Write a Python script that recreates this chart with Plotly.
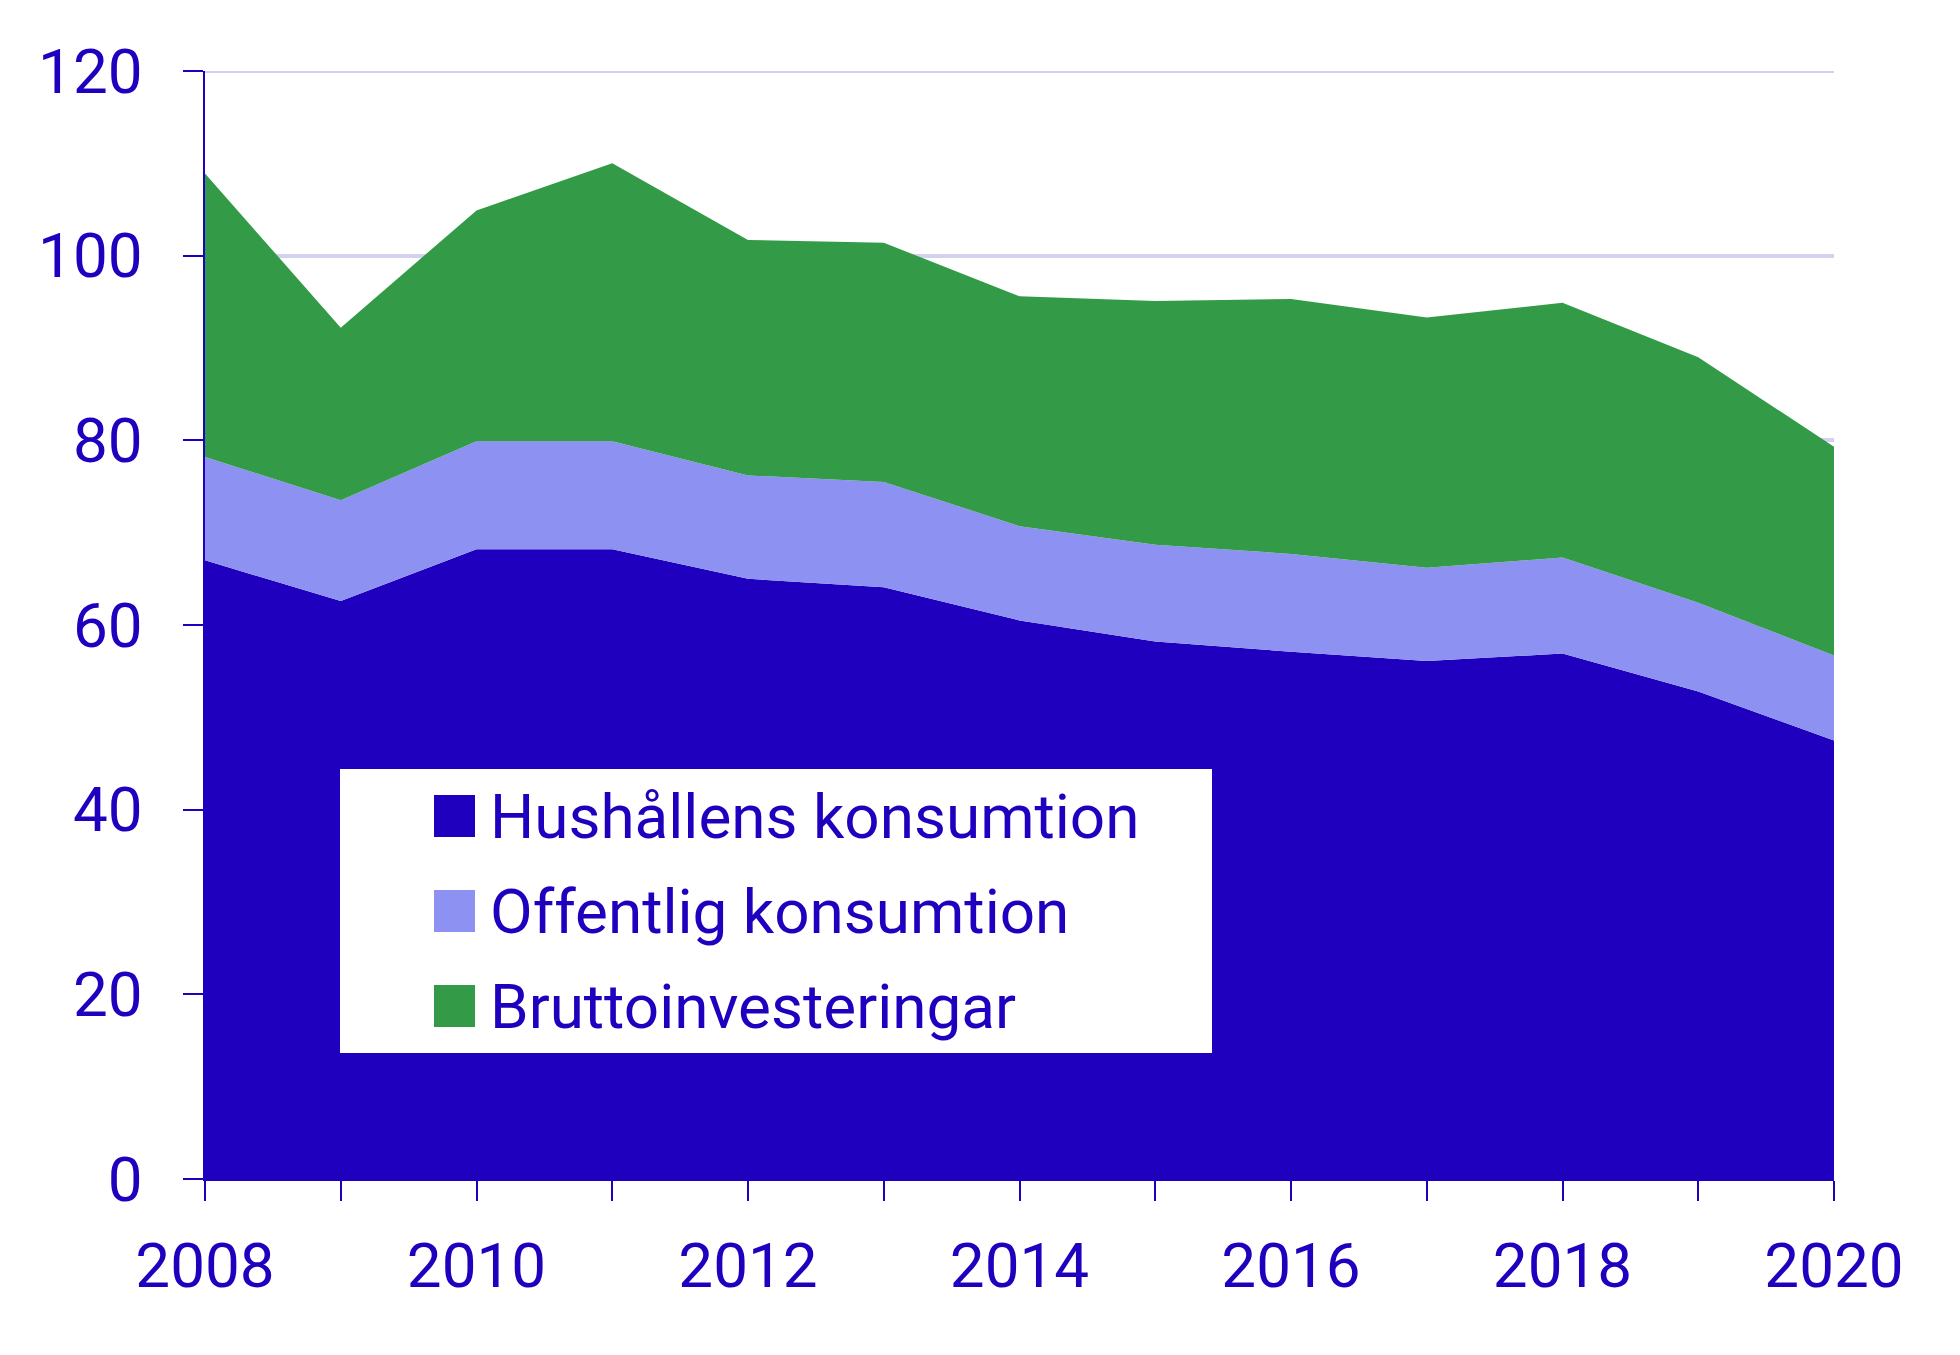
import plotly.graph_objects as go

years = list(range(2008, 2021))
x_tick_labels = ["2008", "", "2010", "", "2012", "", "2014", "", "2016", "", "2018", "", "2020"]
y_tick_vals = [0, 20, 40, 60, 80, 100, 120]

series_names = ["Hushållens konsumtion", "Offentlig konsumtion", "Bruttoinvesteringar"]
hushall = [67.0, 62.6, 68.2, 68.2, 65.0, 64.1, 60.5, 58.2, 57.1, 56.1, 56.9, 52.8, 47.5]
offentlig = [11.2, 10.9, 11.7, 11.7, 11.2, 11.4, 10.2, 10.5, 10.6, 10.1, 10.4, 9.6, 9.2]
brutto = [30.7, 18.7, 25.0, 30.1, 25.5, 25.9, 24.9, 26.4, 27.6, 27.1, 27.6, 26.6, 22.6]

colors = ["#1e00be", "#8c91f2", "#339b47"]
text_color = "#1e00be"
grid_color = "#d2d2f0"
font_family = "Roboto"
fs = 62

fig = go.Figure()
for name, vals, col in zip(series_names, [hushall, offentlig, brutto], colors):
    fig.add_trace(go.Scatter(
        x=years, y=vals, name=name, mode="lines",
        stackgroup="one", line=dict(width=0, color=col),
        fillcolor=col, showlegend=False,
    ))

W, H = 1960, 1355
off = 8  # page body margin
pl, pr, pt, pb = 205, 1834, 71, 1179  # plot area in screen pixels
ml, mt = pl - off, pt - off
pw, ph = pr - pl, pb - pt
mr, mb = W - ml - pw, H - mt - ph

def px(xs):
    return (xs - pl) / pw
def py(ys):
    return 1 - (ys - pt) / ph

box = (340, 769, 1212, 1053)
shapes = [
    dict(type="line", xref="paper", yref="y", x0=0, x1=1, y0=120, y1=120,
         line=dict(color=grid_color, width=4), layer="below"),
    dict(type="rect", xref="paper", yref="paper",
         x0=px(box[0]), x1=px(box[2]), y0=py(box[3]), y1=py(box[1]),
         fillcolor="white", line=dict(width=0), layer="above"),
]
annotations = []
row_centers = [816, 911, 1006]
for name, col, yc in zip(series_names, colors, row_centers):
    shapes.append(dict(type="rect", xref="paper", yref="paper",
                       x0=px(434), x1=px(475), y0=py(yc + 21), y1=py(yc - 21),
                       fillcolor=col, line=dict(width=0), layer="above"))
    annotations.append(dict(xref="paper", yref="paper", x=px(488), y=py(yc),
                            xanchor="left", yanchor="middle", text=name,
                            showarrow=False,
                            font=dict(size=fs, color=text_color, family=font_family)))

fig.update_layout(
    width=W, height=H,
    margin=dict(l=ml, r=mr, t=mt, b=mb, pad=0),
    paper_bgcolor="white", plot_bgcolor="white",
    font=dict(family=font_family, color=text_color, size=fs),
    shapes=shapes, annotations=annotations,
    showlegend=False,
    xaxis=dict(
        range=[2008, 2020], tickmode="array", tickvals=years, ticktext=x_tick_labels,
        ticks="outside", ticklen=20, tickwidth=2, tickcolor=text_color,
        showline=True, linecolor=text_color, linewidth=2,
        showgrid=False, zeroline=False,
        tickfont=dict(size=fs, color=text_color, family=font_family),
        ticklabelstandoff=12,
    ),
    yaxis=dict(
        range=[0, 120], tickmode="array", tickvals=y_tick_vals,
        ticks="outside", ticklen=20, tickwidth=2, tickcolor=text_color,
        showline=True, linecolor=text_color, linewidth=2,
        showgrid=True, gridcolor=grid_color, gridwidth=4, zeroline=False,
        tickfont=dict(size=fs, color=text_color, family=font_family),
        ticklabelstandoff=28,
    ),
)

fig.write_html("out.html")
